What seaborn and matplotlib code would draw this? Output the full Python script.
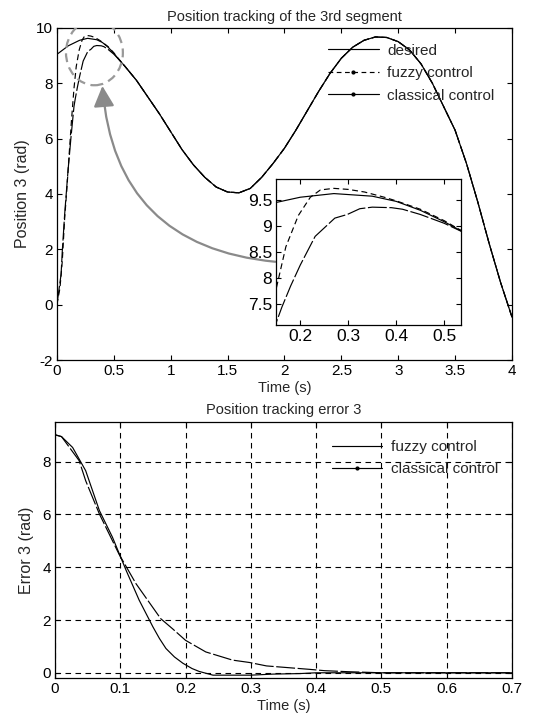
import numpy as np
import pandas as pd
import matplotlib
matplotlib.use("Agg")
import matplotlib.pyplot as plt
from matplotlib.lines import Line2D
from matplotlib.patches import Ellipse, FancyArrowPatch
import seaborn as sns

# ---------------- data ----------------
# Top: desired trajectory of the 3rd segment
desired_t = [0.0, 0.1, 0.2, 0.27, 0.35, 0.4, 0.45, 0.5, 0.53, 0.6, 0.7, 0.8, 0.9,
             1.0, 1.1, 1.2, 1.3, 1.4, 1.5, 1.6, 1.7, 1.8, 1.9, 2.0, 2.1, 2.2,
             2.3, 2.4, 2.5, 2.6, 2.7, 2.8, 2.9, 3.0, 3.1, 3.2, 3.3, 3.4, 3.5,
             3.6, 3.7, 3.8, 3.9, 4.0]
desired_q = [9.04, 9.35, 9.55, 9.62, 9.57, 9.47, 9.3, 9.08, 8.93, 8.6, 8.1, 7.5, 6.9,
             6.25, 5.6, 5.05, 4.6, 4.25, 4.07, 4.04, 4.2, 4.6, 5.1, 5.65, 6.3, 7.0,
             7.7, 8.35, 8.9, 9.3, 9.55, 9.67, 9.65, 9.5, 9.2, 8.7, 8.0, 7.15, 6.3,
             5.1, 3.7, 2.2, 0.8, -0.45]

# Top: fuzzy control response (joins the desired curve after ~0.6 s)
fuzzy_t = [0.0, 0.027, 0.047, 0.068, 0.088, 0.109, 0.129, 0.15, 0.17, 0.196,
           0.221, 0.242, 0.27, 0.3, 0.334, 0.375, 0.4, 0.45, 0.5, 0.53, 0.6]
fuzzy_q = [0.0, 0.6, 1.55, 3.1, 4.2, 5.5, 6.7, 7.8, 8.6, 9.2,
           9.55, 9.69, 9.72, 9.7, 9.65, 9.55, 9.48, 9.32, 9.1, 8.94, 8.6]

# Top: classical control response (joins the desired curve after ~0.6 s)
classic_t = [0.0, 0.037, 0.047, 0.068, 0.098, 0.124, 0.15, 0.162, 0.18, 0.2,
             0.231, 0.272, 0.298, 0.324, 0.35, 0.39, 0.413, 0.45, 0.5, 0.53, 0.6]
classic_q = [0.0, 1.1, 1.9, 3.25, 4.85, 6.05, 7.15, 7.45, 7.85, 8.25,
             8.8, 9.15, 9.22, 9.33, 9.36, 9.35, 9.32, 9.22, 9.05, 8.92, 8.6]

# Bottom: tracking errors
err_fuzzy_t = [0.0, 0.01, 0.027, 0.047, 0.068, 0.088, 0.109, 0.129, 0.15, 0.16,
               0.17, 0.183, 0.196, 0.21, 0.221, 0.242, 0.3, 0.334, 0.375, 0.4,
               0.5, 0.6, 0.7]
err_fuzzy = [9.02, 8.95, 8.54, 7.66, 6.15, 5.14, 3.88, 2.75, 1.74, 1.3,
             0.92, 0.6, 0.36, 0.16, 0.05, -0.09, -0.09, -0.05, -0.03, 0.0,
             0.0, 0.0, 0.0]
err_classic_t = [0.0, 0.01, 0.037, 0.047, 0.068, 0.098, 0.124, 0.162, 0.18, 0.2,
                 0.231, 0.272, 0.298, 0.324, 0.39, 0.413, 0.45, 0.5, 0.6, 0.7]
err_classic = [9.02, 8.95, 8.04, 7.28, 6.02, 4.5, 3.38, 2.05, 1.67, 1.23,
               0.79, 0.48, 0.39, 0.26, 0.13, 0.08, 0.04, 0.0, 0.0, 0.0]

top_xticks = [0, 0.5, 1, 1.5, 2, 2.5, 3, 3.5, 4]
top_xticklabels = ["0", "0.5", "1", "1.5", "2", "2.5", "3", "3.5", "4"]
top_yticks = [-2, 0, 2, 4, 6, 8, 10]
inset_xticks = [0.2, 0.3, 0.4, 0.5]
inset_yticks = [7.5, 8, 8.5, 9, 9.5]
inset_yticklabels = ["7.5", "8", "8.5", "9", "9.5"]
bot_xticks = [0, 0.1, 0.2, 0.3, 0.4, 0.5, 0.6, 0.7]
bot_xticklabels = ["0", "0.1", "0.2", "0.3", "0.4", "0.5", "0.6", "0.7"]
bot_yticks = [0, 2, 4, 6, 8]

# ---------------- style ----------------
sns.set_style("ticks")
plt.rcParams['font.family'] = ['Liberation Sans', 'DejaVu Sans']
plt.rcParams['axes.unicode_minus'] = False
plt.rcParams['axes.linewidth'] = 0.9
plt.rcParams['xtick.direction'] = 'in'
plt.rcParams['ytick.direction'] = 'in'

LW = 0.85
DASH = (0, (5, 3))
LONGDASH = (0, (16, 2.2))

fig = plt.figure(figsize=(5.47, 7.13), dpi=100)

# full-length series for the top plot (responses coincide with desired later on)
tail = [i for i, t in enumerate(desired_t) if t > 0.6]
fz_t = fuzzy_t + [desired_t[i] for i in tail]
fz_q = fuzzy_q + [desired_q[i] for i in tail]
cl_t = classic_t + [desired_t[i] for i in tail]
cl_q = classic_q + [desired_q[i] for i in tail]

def draw_top_lines(ax):
    sns.lineplot(x=desired_t, y=desired_q, ax=ax, color='k', lw=LW, sort=False,
                 estimator=None)
    sns.lineplot(x=fz_t, y=fz_q, ax=ax, color='k', lw=LW, sort=False,
                 estimator=None, linestyle=DASH)
    sns.lineplot(x=cl_t, y=cl_q, ax=ax, color='k', lw=LW, sort=False,
                 estimator=None, linestyle=LONGDASH)

def box_ticks(ax):
    ax.tick_params(which='both', direction='in', top=True, right=True,
                   length=3.5, width=0.8, labelsize=11, pad=3, colors='k')
    for s in ax.spines.values():
        s.set_visible(True)
        s.set_color('k')

# ---------------- top axes ----------------
ax1 = fig.add_axes([0.104, 0.495, 0.832, 0.466])
draw_top_lines(ax1)
ax1.set_xlim(0, 4)
ax1.set_ylim(-2, 10)
ax1.set_xticks(top_xticks)
ax1.set_xticklabels(top_xticklabels)
ax1.set_yticks(top_yticks)
box_ticks(ax1)
ax1.set_title("Position tracking of the 3rd segment", fontsize=10.5, pad=5)
ax1.set_xlabel("Time (s)", fontsize=10.5, labelpad=2)
ax1.set_ylabel("Position 3 (rad)", fontsize=11.5, labelpad=4)

h1 = [Line2D([0], [0], color='k', lw=LW),
      Line2D([0], [0], color='k', lw=LW, linestyle=(0, (4, 3)), marker='.', markersize=4),
      Line2D([0], [0], color='k', lw=LW, marker='.', markersize=4)]
ax1.legend(h1, ["desired", "fuzzy control", "classical control"], loc='upper left',
           bbox_to_anchor=(0.596, 0.952), frameon=False, fontsize=11,
           handlelength=3.3, handletextpad=0.55, labelspacing=0.55,
           borderpad=0, borderaxespad=0, numpoints=1)

# zoom circle and arrow
ax1.add_patch(Ellipse((0.33, 9.1), 0.5, 2.35, fill=False, ec='#999999',
                      lw=1.6, linestyle=(0, (4, 2.5)), zorder=5))
arr = FancyArrowPatch((1.92, 1.55), (0.40, 7.9), connectionstyle="arc3,rad=-0.42",
                      arrowstyle="-|>,head_length=0.9,head_width=0.45",
                      mutation_scale=14, color='#8a8a8a', lw=1.6, zorder=4,
                      shrinkA=0, shrinkB=0)
ax1.add_patch(arr)

# inset
axi = fig.add_axes([0.505, 0.544, 0.338, 0.205])
axi.set_facecolor('white')
draw_top_lines(axi)
axi.set_xlim(0.15, 0.535)
axi.set_ylim(7.1, 9.9)
axi.set_xticks(inset_xticks)
axi.set_xticklabels(["0.2", "0.3", "0.4", "0.5"])
axi.set_yticks(inset_yticks)
axi.set_yticklabels(inset_yticklabels)
box_ticks(axi)
axi.tick_params(labelsize=12.5)
axi.set_xlabel("")
axi.set_ylabel("")

# ---------------- bottom axes ----------------
ax2 = fig.add_axes([0.1005, 0.049, 0.8355, 0.359])
sns.lineplot(x=err_fuzzy_t, y=err_fuzzy, ax=ax2, color='k', lw=LW, sort=False,
             estimator=None)
sns.lineplot(x=err_classic_t, y=err_classic, ax=ax2, color='k', lw=LW, sort=False,
             estimator=None, linestyle=LONGDASH)
ax2.set_xlim(0, 0.7)
ax2.set_ylim(-0.2, 9.5)
ax2.set_xticks(bot_xticks)
ax2.set_xticklabels(bot_xticklabels)
ax2.set_yticks(bot_yticks)
box_ticks(ax2)
ax2.grid(True, color='k', linestyle=(0, (5, 4)), lw=0.8)
ax2.set_axisbelow(True)
ax2.set_title("Position tracking error 3", fontsize=10.5, pad=6)
ax2.set_xlabel("Time (s)", fontsize=10.5, labelpad=2)
ax2.set_ylabel("Error 3 (rad)", fontsize=11.5, labelpad=6)

h2 = [Line2D([0], [0], color='k', lw=LW),
      Line2D([0], [0], color='k', lw=LW, marker='.', markersize=4)]
leg2 = ax2.legend(h2, ["fuzzy control", "classical control"], loc='upper left',
                  bbox_to_anchor=(0.606, 0.93), frameon=False, fontsize=11,
                  handlelength=3.3, handletextpad=0.55, labelspacing=0.55,
                  borderpad=0, borderaxespad=0, numpoints=1)

fig.savefig("out.png", dpi=100, facecolor='white')
